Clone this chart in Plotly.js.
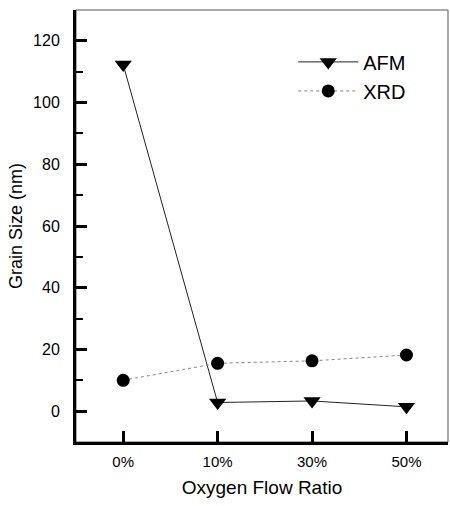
<!DOCTYPE html>
<html><head><meta charset="utf-8">
<script src="https://cdn.plot.ly/plotly-3.0.1.min.js"></script>
<style>html,body{margin:0;padding:0;background:#fff}#plot{width:450px;height:506px}</style>
</head><body><div id="plot"></div>
<script>
const categories = ["0%", "10%", "30%", "50%"];
const afm = [112.3, 2.8, 3.3, 1.4];
const xrd = [10.0, 15.5, 16.3, 18.2];
const yTicks = [0, 20, 40, 60, 80, 100, 120];

const xIdx = categories.map((c, i) => i);

const traces = [
  {x: xIdx, y: afm, name: "AFM", mode: "lines+markers", type: "scatter",
   line: {color: "#222", width: 1},
   marker: {symbol: "triangle-down", size: 15, color: "#000"}},
  {x: xIdx, y: xrd, name: "XRD", mode: "lines+markers", type: "scatter",
   line: {color: "#888", width: 1, dash: "dot"},
   marker: {symbol: "circle", size: 13, color: "#000"}}
];

const layout = {
  width: 450, height: 506,
  margin: {l: 76, r: 2, t: 10, b: 64},
  paper_bgcolor: "#fff", plot_bgcolor: "#fff",
  font: {family: "Liberation Sans, Arial, sans-serif", color: "#000"},
  showlegend: true,
  legend: {x: 0.584, y: 0.925, xanchor: "left", yanchor: "top",
           font: {size: 20, family: "Liberation Sans, Arial, sans-serif"},
           bgcolor: "rgba(0,0,0,0)", itemwidth: 60, tracegroupgap: 0},
  xaxis: {
    range: [-0.5, 3.44], tickmode: "array", tickvals: xIdx, ticktext: categories,
    showgrid: false, zeroline: false, showline: true, linewidth: 3, linecolor: "#000",
    ticks: "inside", ticklen: 11, tickwidth: 3, tickcolor: "#000",
    tickfont: {size: 15}, ticklabelstandoff: 4,
    title: {text: "Oxygen Flow Ratio", font: {size: 19}, standoff: 12}
  },
  yaxis: {
    range: [-10, 130], tickmode: "array", tickvals: yTicks,
    showgrid: false, zeroline: false, showline: true, linewidth: 3, linecolor: "#000",
    ticks: "inside", ticklen: 11, tickwidth: 3, tickcolor: "#000",
    minor: {dtick: 10, ticks: "inside", ticklen: 7, tickwidth: 2, tickcolor: "#000"},
    tickfont: {size: 16}, ticklabelstandoff: 10,
    title: {text: "Grain Size (nm)", font: {size: 18}, standoff: 6}
  },
  shapes: [{type: "rect", xref: "paper", yref: "paper", x0: 0, x1: 1, y0: 0, y1: 1,
            line: {color: "#555", width: 1}, layer: "below"}]
};

Plotly.newPlot("plot", traces, layout, {staticPlot: true, displayModeBar: false});
</script></body></html>
